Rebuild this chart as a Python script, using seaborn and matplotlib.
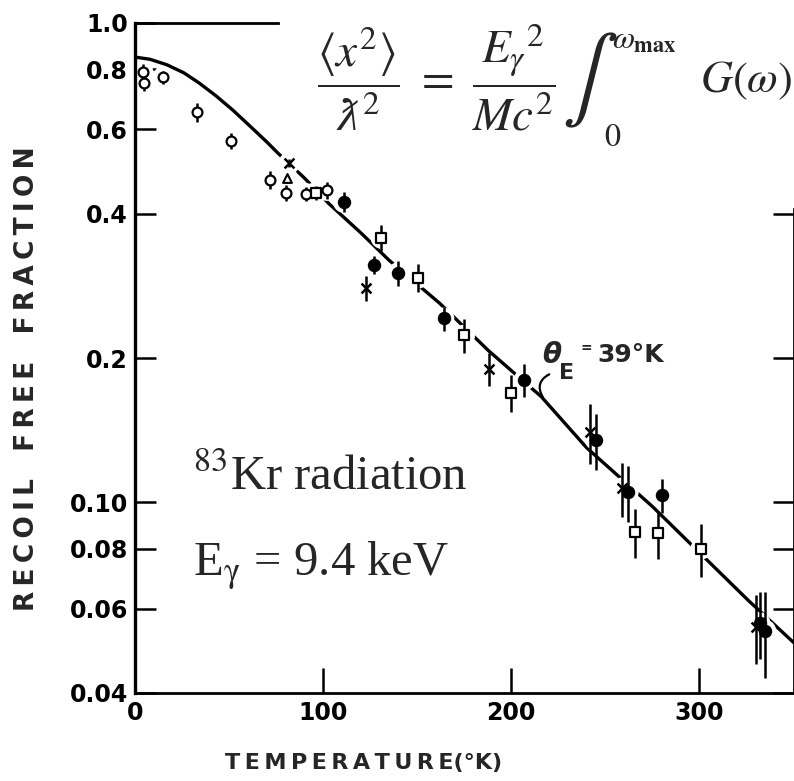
import numpy as np
import pandas as pd
import matplotlib
matplotlib.use("Agg")
import matplotlib.pyplot as plt
import seaborn as sns
from matplotlib._mathtext_data import tex2uni

# ---------------- data ----------------
curve_T = [0, 8, 17, 26, 34, 43, 52, 61, 70, 76, 90, 103, 120, 135, 162, 188, 216, 240, 275, 326, 350]
curve_f = [0.849, 0.840, 0.818, 0.787, 0.750, 0.705, 0.658, 0.610, 0.565, 0.535, 0.475, 0.420,
           0.365, 0.320, 0.260, 0.207, 0.166, 0.130, 0.098, 0.0624, 0.051]

circ_T = [4, 5, 15, 33, 51, 72, 80.5, 91, 102]
circ_f = [0.79, 0.75, 0.77, 0.652, 0.567, 0.470, 0.442, 0.440, 0.448]
circ_e = [0.03, 0.03, 0.025, 0.03, 0.022, 0.02, 0.017, 0.015, 0.018]

tri_T = [81]
tri_f = [0.474]
tri_e = [0.01]

cross_T = [82, 123, 188, 242, 259, 330]
cross_f = [0.51, 0.28, 0.19, 0.140, 0.107, 0.055]
cross_e = [0.01, 0.017, 0.015, 0.02, 0.014, 0.009]

fill_T = [111, 127, 140, 164, 207, 245, 262, 280, 332, 335]
fill_f = [0.423, 0.313, 0.301, 0.242, 0.180, 0.135, 0.105, 0.1035, 0.056, 0.054]
fill_e = [0.02, 0.014, 0.018, 0.014, 0.014, 0.018, 0.014, 0.0085, 0.009, 0.011]

sq_T = [96, 131, 150.5, 175, 200, 266, 278, 301]
sq_f = [0.442, 0.356, 0.294, 0.223, 0.169, 0.0866, 0.0861, 0.080]
sq_e = [0.015, 0.022, 0.02, 0.018, 0.015, 0.01, 0.01, 0.01]

y_ticks = [0.04, 0.06, 0.08, 0.1, 0.2, 0.4, 0.6, 0.8, 1.0]
y_labels = ["0.04", "0.06", "0.08", "0.10", "0.2", "0.4", "0.6", "0.8", "1.0"]
x_ticks = [0, 100, 200, 300]
x_labels = ["0", "100", "200", "300"]

# ---------------- style ----------------
sns.set_style("white")
plt.rcParams["font.family"] = ["DejaVu Sans"]

W, H = 794, 781
fig = plt.figure(figsize=(W / 100, H / 100), dpi=100)
ax = fig.add_axes([135 / W, 1 - 693 / H, (793.5 - 135) / W, (693 - 23) / H])
ax.set_yscale("log")

# curve
sns.lineplot(x=curve_T, y=curve_f, ax=ax, color="black", lw=2.4, zorder=2, sort=True)

groups = [
    (circ_T, circ_f, circ_e, dict(marker="o", s=50, facecolor="white", edgecolor="black", linewidth=1.6)),
    (tri_T, tri_f, tri_e, dict(marker="^", s=40, facecolor="white", edgecolor="black", linewidth=1.5)),
    (cross_T, cross_f, cross_e, dict(marker="x", s=50, color="black", linewidth=1.8)),
    (fill_T, fill_f, fill_e, dict(marker="o", s=75, facecolor="black", edgecolor="black", linewidth=1.0)),
    (sq_T, sq_f, sq_e, dict(marker="s", s=55, facecolor="white", edgecolor="black", linewidth=1.6)),
]
for T, f, e, kw in groups:
    # white halo that breaks the line around each point
    sns.scatterplot(x=T, y=f, ax=ax, marker="o", s=240, color="white", edgecolor="none",
                    linewidth=0, zorder=2.5, legend=False)
for T, f, e, kw in groups:
    ax.errorbar(T, f, yerr=e, fmt="none", ecolor="black", elinewidth=1.8, capsize=0, zorder=3)
for T, f, e, kw in groups:
    sns.scatterplot(x=T, y=f, ax=ax, zorder=4, legend=False, **kw)

ax.set_xlim(0, 350)
ax.set_ylim(0.04, 1.0)
ax.yaxis.set_minor_locator(matplotlib.ticker.NullLocator())
ax.set_yticks(y_ticks)
ax.set_yticklabels(y_labels)
ax.set_xticks(x_ticks)
ax.set_xticklabels(x_labels)
ax.set_xlabel("")
ax.set_ylabel("")

ax.tick_params(axis="y", direction="in", length=15, width=1.8, labelsize=17, pad=5,
               left=True, right=True, colors="black")
ax.tick_params(axis="x", direction="in", length=18, width=1.8, labelsize=17, pad=6,
               bottom=True, top=False, colors="black")
for lbl in ax.get_xticklabels() + ax.get_yticklabels():
    lbl.set_fontweight("bold")
for t in ax.yaxis.get_major_ticks():
    if t.get_loc() > 0.45:
        t.tick2line.set_visible(False)

for side in ["left", "right", "top", "bottom"]:
    ax.spines[side].set_visible(True)
    ax.spines[side].set_color("black")
    ax.spines[side].set_linewidth(2.0)
ax.spines["left"].set_linewidth(2.4)
ax.spines["top"].set_bounds(0, 76)
ax.spines["right"].set_bounds(0.04, 0.41)

# axis titles
ts = "\u2009"
ylab = "   ".join(ts.join(w) for w in ["RECOIL", "FREE", "FRACTION"])
xlab = ts.join("TEMPERATURE") + "(°K)"
fig.text(27 / W, 1 - 379 / H, ylab, rotation=90,
         ha="center", va="center", fontsize=19, fontweight="bold")
fig.text(364 / W, 1 - 763 / H, xlab, ha="center", va="center", fontsize=16, fontweight="bold")

# formula
lam = r"\lambdabar" if "lambdabar" in tex2uni else r"\bar{\lambda}"
part1 = (r"$\dfrac{\langle x^2\rangle}{" + lam + r"^2}\ =\ \dfrac{{E_\gamma}^2}{Mc^2}$")
fig.text(317 / W, 1 - 77 / H, part1, ha="left", va="center", fontsize=34,
         math_fontfamily="stix", family="Liberation Serif")
fig.text(590 / W, 1 - 80 / H, r"$\int$", ha="center", va="center", fontsize=60,
         math_fontfamily="stix")
fig.text(612 / W, 1 - 40 / H, r"$\omega_{\mathbf{max}}$", ha="left", va="center", fontsize=23,
         math_fontfamily="stix")
fig.text(604 / W, 1 - 137 / H, r"$0$", ha="left", va="center", fontsize=23,
         math_fontfamily="stix")
fig.text(700 / W, 1 - 80 / H, r"$G(\omega)$", ha="left", va="center", fontsize=32,
         math_fontfamily="stix")

# annotation texts
fig.text(193 / W, 1 - 490 / H, r"$^{83}$Kr radiation", ha="left", va="baseline",
         fontsize=35, family="Liberation Serif", math_fontfamily="stix")
fig.text(193 / W, 1 - 575 / H, r"E$_{\mathrm{\gamma}}$ = 9.4 keV", ha="left", va="baseline",
         fontsize=35, family="Liberation Serif", math_fontfamily="stix")

# theta_E label
fig.text(542 / W, 1 - 363 / H, "θ", ha="left", va="baseline", fontsize=20,
         fontweight="bold", style="italic")
fig.text(559 / W, 1 - 379 / H, "E", ha="left", va="baseline", fontsize=16, fontweight="bold")
fig.text(580 / W, 1 - 352 / H, "=", ha="left", va="baseline", fontsize=10, fontweight="bold")
fig.text(597 / W, 1 - 362 / H, "39°K", ha="left", va="baseline", fontsize=18, fontweight="bold")
ax.annotate("", xy=(217.5, 0.164), xytext=(221.5, 0.186),
            arrowprops=dict(arrowstyle="-", lw=1.6, color="black",
                            connectionstyle="arc3,rad=0.6"))

fig.savefig("out.png", dpi=100, facecolor="white")
